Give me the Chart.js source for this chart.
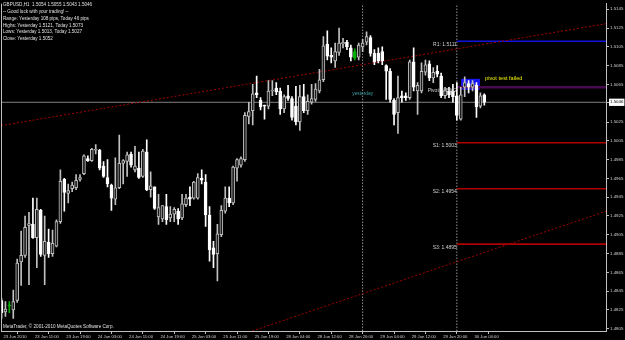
<!DOCTYPE html>
<html><head><meta charset="utf-8">
<script src="https://cdn.jsdelivr.net/npm/chart.js@4.4.0/dist/chart.umd.min.js"></script>
<style>html,body{margin:0;padding:0;background:#000;overflow:hidden}#wrap{width:625px;height:340px;position:relative}</style>
</head><body><div id="wrap"><canvas id="c" width="625" height="340"></canvas></div>
<script>
// ---- DATA (GBPUSD H1, 23 Jun 2010 03:00 .. 30 Jun 2010 07:00) ----
const opens = [1.4835,1.4823,1.4829,1.4825,1.4835,1.4876,1.4883,1.4915,1.4916,1.4902,
1.4931,1.4883,1.4897,1.4885,1.4893,1.4919,1.4964,1.4949,1.4954,1.4955,
1.4964,1.4970,1.4986,1.4984,1.4995,1.4995,1.4978,1.4966,1.4958,1.4943,
1.4955,1.4981,1.4983,1.4991,1.4974,1.4976,1.4967,1.4993,1.4953,1.4956,
1.4924,1.4922,1.4935,1.4923,1.4927,1.4930,1.4923,1.4937,1.4945,1.4944,
1.4944,1.4965,1.4961,1.4926,1.4891,1.4885,1.4905,1.4930,1.4944,1.4939,
1.4976,1.4979,1.4985,1.5031,1.5037,1.5056,1.5048,1.5043,1.5042,1.5058,
1.5061,1.5058,1.5039,1.5053,1.5050,1.5042,1.5025,1.5052,1.5037,1.5046,
1.5049,1.5058,1.5070,1.5108,1.5096,1.5090,1.5099,1.5108,1.5110,1.5104,
1.5093,1.5094,1.5105,1.5110,1.5115,1.5098,1.5098,1.5100,1.5085,1.5079,
1.5048,1.5035,1.5053,1.5053,1.5051,1.5089,1.5058,1.5058,1.5078,1.5087,
1.5072,1.5079,1.5074,1.5053,1.5058,1.5058,1.5053,1.5028,1.5062,1.5066,
1.5062,1.5064,1.5042,1.5054];
const highs = [1.4837,1.4834,1.4834,1.4846,1.4879,1.4909,1.4925,1.4929,1.4944,1.4944,
1.4932,1.4925,1.4911,1.4910,1.4921,1.4974,1.4965,1.4959,1.4961,1.4969,
1.4969,1.4990,1.4989,1.4997,1.5001,1.4996,1.4983,1.4985,1.4959,1.4987,
1.5011,1.4985,1.4993,1.4993,1.4999,1.4993,1.4996,1.5006,1.4972,1.4956,
1.4948,1.4936,1.4948,1.4935,1.4934,1.4933,1.4948,1.4948,1.4956,1.4962,
1.4970,1.4974,1.4969,1.4935,1.4898,1.4916,1.4936,1.4956,1.4956,1.4978,
1.4986,1.4988,1.5035,1.5046,1.5065,1.5074,1.5051,1.5043,1.5069,1.5069,
1.5067,1.5061,1.5054,1.5064,1.5052,1.5063,1.5064,1.5065,1.5054,1.5065,
1.5066,1.5081,1.5116,1.5122,1.5104,1.5109,1.5125,1.5114,1.5112,1.5107,
1.5103,1.5109,1.5113,1.5121,1.5117,1.5102,1.5104,1.5105,1.5086,1.5082,
1.5050,1.5074,1.5058,1.5056,1.5091,1.5104,1.5067,1.5088,1.5091,1.5090,
1.5083,1.5085,1.5077,1.5062,1.5062,1.5065,1.5067,1.5062,1.5073,1.5069,
1.5069,1.5067,1.5056,1.5055];
const lows = [1.4816,1.4818,1.4822,1.4816,1.4833,1.4851,1.4881,1.4852,1.4901,1.4870,
1.4882,1.4852,1.4881,1.4882,1.4892,1.4917,1.4930,1.4939,1.4951,1.4953,
1.4962,1.4969,1.4983,1.4983,1.4991,1.4974,1.4966,1.4956,1.4931,1.4937,
1.4954,1.4959,1.4967,1.4977,1.4972,1.4965,1.4966,1.4952,1.4945,1.4932,
1.4916,1.4919,1.4916,1.4919,1.4919,1.4916,1.4921,1.4935,1.4936,1.4943,
1.4943,1.4959,1.4914,1.4877,1.4870,1.4856,1.4903,1.4928,1.4935,1.4937,
1.4962,1.4977,1.4983,1.5023,1.5022,1.5051,1.5038,1.5028,1.5039,1.5053,
1.5054,1.5033,1.5035,1.5048,1.5027,1.5022,1.5016,1.5035,1.5033,1.5044,
1.5047,1.5056,1.5068,1.5091,1.5088,1.5083,1.5096,1.5104,1.5102,1.5090,
1.5091,1.5091,1.5100,1.5107,1.5095,1.5086,1.5088,1.5086,1.5049,1.5046,
1.5022,1.5013,1.5046,1.5048,1.5049,1.5058,1.5033,1.5056,1.5075,1.5069,
1.5067,1.5073,1.5051,1.5050,1.5051,1.5046,1.5027,1.5027,1.5052,1.5056,
1.5058,1.5030,1.5040,1.5043];
const closes = [1.4822,1.4826,1.4830,1.4834,1.4875,1.4883,1.4913,1.4917,1.4902,1.4932,
1.4884,1.4898,1.4885,1.4896,1.4919,1.4962,1.4950,1.4952,1.4958,1.4963,
1.4966,1.4989,1.4984,1.4996,1.4996,1.4976,1.4967,1.4959,1.4944,1.4955,
1.4981,1.4984,1.4990,1.4979,1.4978,1.4966,1.4994,1.4953,1.4957,1.4933,
1.4934,1.4936,1.4921,1.4927,1.4932,1.4922,1.4938,1.4944,1.4943,1.4961,
1.4966,1.4963,1.4926,1.4889,1.4884,1.4906,1.4931,1.4944,1.4939,1.4977,
1.4985,1.4986,1.5032,1.5036,1.5055,1.5054,1.5041,1.5042,1.5058,1.5059,
1.5057,1.5039,1.5052,1.5050,1.5030,1.5025,1.5052,1.5037,1.5047,1.5050,
1.5060,1.5070,1.5106,1.5095,1.5094,1.5100,1.5109,1.5110,1.5105,1.5094,
1.5100,1.5107,1.5109,1.5116,1.5098,1.5089,1.5090,1.5090,1.5079,1.5049,
1.5033,1.5051,1.5051,1.5051,1.5089,1.5062,1.5064,1.5079,1.5086,1.5072,
1.5078,1.5076,1.5053,1.5059,1.5054,1.5052,1.5032,1.5054,1.5067,1.5062,
1.5066,1.5041,1.5053,1.5046];
const greenBars = [2, 90];
const xTickIndex = [0,8,16,24,32,40,48,56,64,72,80,88,96,104,112,120];
const xTickLabels = ['23 Jun 2010','23 Jun 11:00','23 Jun 19:00','24 Jun 03:00','24 Jun 11:00','24 Jun 19:00','25 Jun 03:00','25 Jun 11:00','25 Jun 19:00','28 Jun 04:00','28 Jun 12:00','28 Jun 20:00','29 Jun 04:00','29 Jun 12:00','29 Jun 20:00','30 Jun 04:00'];
const yTickLabels = ['1.5145','1.5125','1.5105','1.5085','1.5065','1.5046','1.5025','1.5005','1.4985','1.4965','1.4945','1.4925','1.4905','1.4885','1.4865','1.4845','1.4825','1.4805'];
const currentPrice = 1.5046;
const levelNames = ['R1','Pivot','S1','S2','S3'];
const levelValues = [1.5111, 1.5062, 1.5003, 1.4954, 1.4895];
const daySeparators = [92, 116];
const levelStart = 116;
const trendUpper = [[-0.13, 1.50212], [154, 1.51296]];
const trendLower = [[63.9, 1.48026], [154, 1.4930]];
const boxTime = [117.07, 121.9];
const boxPrice = [1.50594, 1.50710];
const boxLabel = 'pivot test failed';
const boxLabelAt = [123.2, 1.5071];
const sepLabel = 'yesterday';
const sepLabelAt = [92, 1.5055];
const commentLines = ['GBPUSD,H1  1.5054 1.5055 1.5043 1.5046','-- Good luck with your trading! --','Range: Yesterday 108 pips, Today 46 pips','Highs: Yesterday 1.5121, Today 1.5073','Lows: Yesterday 1.5013, Today 1.5027','Close: Yesterday 1.5052'];
const copyright = 'MetaTrader, \u00A9 2001-2010 MetaQuotes Software Corp.';
const X_MIN = -0.13, X_MAX = 154.0, Y_MIN = 1.480258, Y_MAX = 1.5151;

// ---- STYLES ----
const FONT = 'Liberation Sans';
const AXIS = '#c0c0c0';
const levelColors = ['#1010e0', '#4a0a50', '#b00000', '#b00000', '#b00000'];
const levelWidths = [1.4, 2.6, 1.6, 1.6, 1.6];

const idx = opens.map((_, i) => i);
const kind = i => greenBars.includes(i) ? 'g' : (closes[i] >= opens[i] ? 'u' : 'd');
const wickCol = i => ({g:'#00b000', u:'#c0c0c0', d:'#ffffff'})[kind(i)];
const bodyFill = i => ({g:'#00b000', u:'#1c1c1c', d:'#ffffff'})[kind(i)];
const bodyBorder = i => ({g:'#00b000', u:'#c0c0c0', d:'#ffffff'})[kind(i)];

const lineDs = (pts, color, width, dash, order) => ({
  type: 'line', data: pts.map(p => ({x: p[0], y: p[1]})), borderColor: color, borderWidth: width,
  borderDash: dash, pointRadius: 0, fill: false, tension: 0, order: order
});

const datasets = [];
datasets.push(lineDs([[X_MIN, currentPrice], [X_MAX, currentPrice]], '#808080', 1, [], 5));
daySeparators.forEach(d => datasets.push(lineDs([[d, Y_MIN], [d, Y_MAX]], '#909090', 1, [1.5, 1.5], 5)));
levelValues.forEach((v, k) => datasets.push(lineDs([[levelStart, v], [X_MAX, v]], levelColors[k], levelWidths[k], [], 4)));
datasets.push(lineDs(trendUpper, '#a00000', 1, [2, 2], 3));
datasets.push(lineDs(trendLower, '#a00000', 1, [2, 2], 3));
datasets.push({
  type: 'bar', data: idx.map(i => ({x: i, y: [lows[i], highs[i]]})),
  backgroundColor: idx.map(wickCol), barThickness: 1, grouped: false, order: 1, borderWidth: 0
});
datasets.push({
  type: 'bar', data: idx.map(i => ({x: i, y: [Math.min(opens[i], closes[i]), Math.max(opens[i], closes[i])]})),
  backgroundColor: idx.map(bodyFill), borderColor: idx.map(bodyBorder), borderWidth: 1, borderSkipped: false,
  barThickness: 3, minBarLength: 1, grouped: false, order: 0
});

const overlay = {
  id: 'overlay',
  beforeDraw(chart) {
    const c = chart.ctx; c.save(); c.fillStyle = '#000'; c.fillRect(0, 0, chart.width, chart.height); c.restore();
  },
  beforeDatasetsDraw(chart) {
    const c = chart.ctx, xs = chart.scales.x, ys = chart.scales.y;
    c.save();
    c.fillStyle = '#1616f0';
    const x0 = xs.getPixelForValue(boxTime[0]), x1 = xs.getPixelForValue(boxTime[1]);
    const y0 = ys.getPixelForValue(boxPrice[1]), y1 = ys.getPixelForValue(boxPrice[0]);
    c.fillRect(x0, y0, x1 - x0, y1 - y0);
    c.restore();
  },
  afterDatasetsDraw(chart) {
    const c = chart.ctx, xs = chart.scales.x, ys = chart.scales.y, a = chart.chartArea;
    c.save();
    c.strokeStyle = AXIS; c.lineWidth = 1;
    c.beginPath(); c.moveTo(a.left + 0.5, a.top); c.lineTo(a.left + 0.5, a.bottom); c.stroke();
    c.font = '5px "' + FONT + '"'; c.fillStyle = '#d0d0d0'; c.textAlign = 'right'; c.textBaseline = 'middle';
    const lx = xs.getPixelForValue(levelStart);
    levelValues.forEach((v, k) => c.fillText(levelNames[k] + ': ' + v.toFixed(4), lx, ys.getPixelForValue(v) + 3.2));
    c.font = '5.6px "' + FONT + '"'; c.fillStyle = '#f0f000'; c.textAlign = 'left';
    c.fillText(boxLabel, xs.getPixelForValue(boxLabelAt[0]), ys.getPixelForValue(boxLabelAt[1]));
    c.font = '4.8px "' + FONT + '"'; c.fillStyle = '#3aa0a0'; c.textAlign = 'center';
    c.fillText(sepLabel, xs.getPixelForValue(sepLabelAt[0]), ys.getPixelForValue(sepLabelAt[1]));
    c.font = '4.6px "' + FONT + '"'; c.fillStyle = '#e0e0e0'; c.textAlign = 'left';
    commentLines.forEach((t, k) => c.fillText(t, 3, 5 + k * 6.8));
    c.font = '4.6px "' + FONT + '"';
    c.fillText(copyright, 3, 327);
    c.restore();
  }
};

new Chart(document.getElementById('c'), {
  type: 'bar',
  data: {datasets},
  options: {
    responsive: false, animation: false, events: [],
    layout: {padding: {left: 1, top: 0, right: 0, bottom: 0}},
    plugins: {legend: {display: false}, tooltip: {enabled: false}},
    scales: {
      x: {
        type: 'linear', min: X_MIN, max: X_MAX, offset: false,
        afterBuildTicks: s => { s.ticks = xTickIndex.map(v => ({value: v})); },
        afterFit: s => { s.height = 9; },
        ticks: {callback: (v, i) => xTickLabels[i], autoSkip: false, maxRotation: 0, minRotation: 0, align: 'start',
          labelOffset: 2, padding: 0, color: '#d0d0d0', font: {family: FONT, size: 4.2}},
        grid: {drawOnChartArea: false, drawTicks: true, tickLength: 3, color: AXIS},
        border: {display: true, color: AXIS}
      },
      y: {
        type: 'linear', position: 'right', min: Y_MIN, max: Y_MAX,
        afterBuildTicks: s => { s.ticks = yTickLabels.map(t => ({value: parseFloat(t)})); },
        afterFit: s => { s.width = 19; },
        ticks: {callback: (v, i) => yTickLabels[i], autoSkip: false, padding: 1,
          color: ctx => (ctx.tick && ctx.tick.value === currentPrice) ? '#000000' : '#d0d0d0',
          showLabelBackdrop: ctx => !!(ctx.tick && ctx.tick.value === currentPrice),
          backdropColor: '#ffffff', backdropPadding: 1,
          font: {family: FONT, size: 4.4}},
        grid: {drawOnChartArea: false, drawTicks: true, tickLength: 3, color: AXIS},
        border: {display: true, color: AXIS}
      }
    }
  },
  plugins: [overlay]
});
</script></body></html>
